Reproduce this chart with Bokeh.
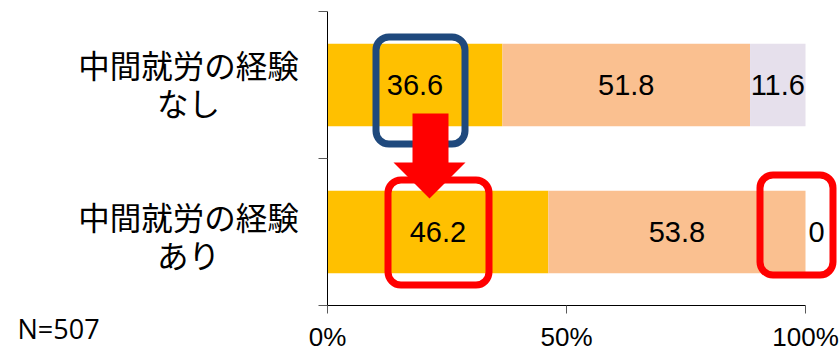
from bokeh.plotting import figure
from bokeh.models import (ColumnDataSource, FixedTicker, Label, BoxAnnotation,
                          PolyAnnotation, Range1d)
from bokeh.core.properties import value
from bokeh.embed import file_html
from bokeh.resources import INLINE

# ---------------- data ----------------
categories = ["中間就労の経験\nなし", "中間就労の経験\nあり"]
row_pos = [1, 0]
seg1 = [36.6, 46.2]
seg2 = [51.8, 53.8]
seg3 = [11.6, 0.0]
seg_colors = ["#FFC000", "#FAC090", "#E6E0EC"]
x_ticks = [0, 50, 100]
x_tick_labels = ["0%", "50%", "100%"]
y_bounds = [-0.5, 0.5, 1.5]
sample_note = "N=507"

# ---------------- layout constants (pixels) ----------------
W, H = 839, 347
FRAME_LEFT, FRAME_TOP = 16, 9
X0PX, X100PX = 327, 805          # 0% and 100%
YTOP, YBOT = 11, 305             # value 1.5 and -0.5
PXX = (X100PX - X0PX) / 100.0
PXY = (YBOT - YTOP) / 2.0


def dx(px):
    return (px - X0PX) / PXX


def dy(py):
    return 1.5 - (py - YTOP) / PXY


p = figure(width=W, height=H, output_backend="svg", toolbar_location=None,
           x_range=Range1d(dx(FRAME_LEFT), dx(W)),
           y_range=Range1d(dy(H), dy(FRAME_TOP)),
           x_axis_location="above",
           min_border_left=FRAME_LEFT, min_border_right=0,
           min_border_top=FRAME_TOP, min_border_bottom=0,
           outline_line_color=None, background_fill_color="white",
           border_fill_color="white")
p.xgrid.visible = False
p.ygrid.visible = False

# bars + value labels
cum = [0.0] * len(row_pos)
for vals, col in zip([seg1, seg2, seg3], seg_colors):
    lefts = cum[:]
    rights = [a + b for a, b in zip(lefts, vals)]
    src = ColumnDataSource(dict(y=row_pos, left=lefts, right=rights))
    p.hbar(y="y", left="left", right="right", height=0.56, source=src,
           fill_color=col, line_color=None)
    lx, loff, ltxt = [], [], []
    for l, r, v in zip(lefts, rights, vals):
        if v == 0:
            lx.append(r)
            loff.append(11)
        else:
            lx.append((l + r) / 2)
            loff.append(0)
        ltxt.append(f"{v:g}")
    lsrc = ColumnDataSource(dict(x=lx, y=row_pos, t=ltxt, off=loff))
    p.text(x="x", y="y", text="t", x_offset="off", source=lsrc,
           text_font=value("Liberation Sans"), text_font_size="29px",
           text_align="center", text_baseline="middle", text_color="black")
    cum = rights

# x axis (drawn at the -0.5 boundary, labels below the line)
xa = p.xaxis[0]
xa.fixed_location = y_bounds[0]
xa.bounds = (x_ticks[0], x_ticks[-1])
xa.ticker = FixedTicker(ticks=x_ticks)
xa.major_label_overrides = {t: s for t, s in zip(x_ticks, x_tick_labels)}
xa.major_label_text_font = "Liberation Sans"
xa.major_label_text_font_size = "26px"
xa.major_label_text_color = "black"
xa.major_label_standoff = -46
xa.major_tick_out = 0
xa.major_tick_in = 8
xa.minor_tick_line_color = None
xa.major_tick_line_color = "#595959"
xa.axis_line_color = "black"

# y axis at 0 %, ticks at the category boundaries
ya = p.yaxis[0]
ya.fixed_location = x_ticks[0]
ya.bounds = (y_bounds[0], y_bounds[-1])
ya.ticker = FixedTicker(ticks=y_bounds)
ya.major_label_overrides = {t: "" for t in y_bounds}
ya.major_label_standoff = 0
ya.major_tick_out = 9
ya.major_tick_in = 0
ya.minor_tick_line_color = None
ya.major_tick_line_color = "#595959"
ya.axis_line_color = "black"

# category labels: one centred text block
cat_text = "\n\n\n".join(categories)
p.add_layout(Label(x=dx(188), y=dy(158.5), text=cat_text, text_align="center",
                   text_baseline="middle", text_font="Noto Sans CJK JP",
                   text_font_size="31.5px", text_line_height=0.83,
                   text_color="black"))

p.add_layout(Label(x=dx(17), y=dy(328), text=sample_note, text_align="left",
                   text_baseline="middle", text_font="Open Sans",
                   text_font_size="27px", text_color="black"))

# highlight boxes
for (l, r, t, b, c) in [(375.5, 464.5, 36.5, 143.5, "#1F497D"),
                        (387.5, 488.5, 179.5, 284.5, "#FF0000"),
                        (759.5, 832.5, 174.5, 274.5, "#FF0000")]:
    p.add_layout(BoxAnnotation(left=dx(l), right=dx(r), top=dy(t), bottom=dy(b),
                               fill_alpha=0, line_color=c, line_alpha=1.0,
                               line_width=7, border_radius=13))

# arrow
ax_px = [412, 448, 448, 465, 429, 393, 412]
ay_px = [113, 113, 162, 162, 198, 162, 162]
p.add_layout(PolyAnnotation(xs=[dx(v) for v in ax_px], ys=[dy(v) for v in ay_px],
                            fill_color="#FF0000", fill_alpha=1.0,
                            line_color=None))

open("out.html", "w").write(file_html(p, INLINE))
